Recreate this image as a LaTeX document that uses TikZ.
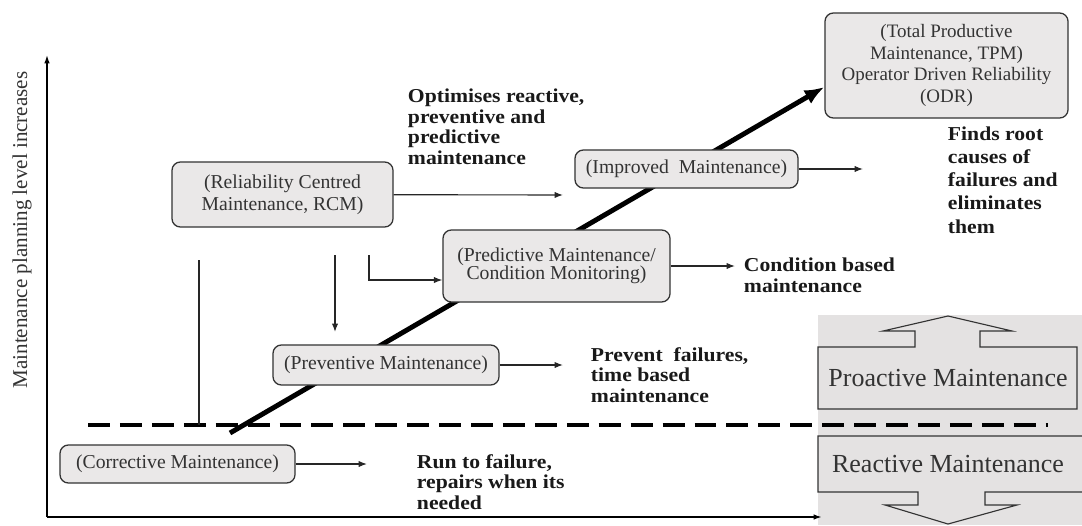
\documentclass[tikz,border=0pt]{standalone}
\usepackage{fontspec}
\setmainfont{Liberation Serif}
\newfontfamily\notefont{Liberation Serif Bold}[FakeStretch=1.1]
\usetikzlibrary{arrows.meta}
\definecolor{boxfill}{HTML}{EAE8E8}
\definecolor{backfill}{HTML}{E4E2E2}
\definecolor{ink}{HTML}{333333}
\begin{document}
\begin{tikzpicture}[x=0.025cm,y=-0.025cm,
	stage/.style={draw=ink,line width=0.9pt,fill=boxfill,rounded corners=6pt,inner sep=0pt,
		align=center,text=ink,font=\fontsize{14}{15.4}\selectfont},
	note/.style={anchor=west,align=left,text=black!90,font=\notefont\fontsize{14}{14.6}\selectfont},
	arr/.style={-{Latex[length=6pt,width=4.5pt]},line width=0.8pt,draw=black!85},
	block/.style={draw=ink,line width=0.8pt,fill=backfill},
	big/.style={text=ink,font=\fontsize{18.5}{20}\selectfont}]
	\useasboundingbox (0,0) rectangle (1082,525);
	\fill[backfill] (818,315) rectangle (1082,525);
	% free ends
	\path (47,517) coordinate (O) (47,55) coordinate (Ytop) (822,517) coordinate (Xend)
	(230,433) coordinate (rise) (88,425) coordinate (dashL) (1048,425) coordinate (dashR)
	(199,260) coordinate (barTop) (199,425) coordinate (barFoot)
	(335,255) coordinate (rcmDrop) (335,332) coordinate (prevTop) (369,255) coordinate (rcmHook)
	(367,464) coordinate (corrEnd) (563,365) coordinate (prevEnd) (735,266) coordinate (predEnd)
	(863,169) coordinate (impEnd) (563,195) coordinate (rcmEnd);
	\draw[line width=1pt,-{Latex[length=6pt,width=4pt]}] (O) -- (Ytop);
	\draw[line width=1.3pt,-{Latex[length=6pt,width=4pt]}] (O) -- (Xend);
	\node[rotate=90,text=ink,font=\fontsize{15}{15}\selectfont] (ylab) at (22,230) {Maintenance planning level increases};
	\draw[line width=2.8pt,dash pattern=on 15.6pt off 7.1pt] (dashL) -- (dashR);
	% the boxes
	\node[stage,minimum width=6.075cm,minimum height=2.625cm,font=\fontsize{13.5}{15.4}\selectfont] (tpm) at (946.5,65.5)
	{(Total Productive\\Maintenance, TPM)\\Operator Driven Reliability\\(ODR)};
	\draw[line width=3.5pt,-{Latex[length=14pt,width=11pt]}] (rise) -- (tpm.190);
	\node[stage,minimum width=5.525cm,minimum height=1.625cm] (rcm) at (282.5,194.5) {(Reliability Centred\\Maintenance, RCM)};
	\node[stage,minimum width=5.575cm,minimum height=0.95cm] (imp) at (686.5,169) {(Improved~ Maintenance)};
	\node[stage,minimum width=5.675cm,minimum height=1.8cm,font=\fontsize{14}{13}\selectfont] (pred) at (556.5,266)
	{(Predictive Maintenance/\\Condition Monitoring)};
	\node[stage,minimum width=5.65cm,minimum height=1cm] (prev) at (386,365) {(Preventive Maintenance)};
	\node[stage,minimum width=5.875cm,minimum height=0.95cm] (corr) at (177.5,464) {(Corrective Maintenance)};
	\foreach \a/\b in {corr/corrEnd,prev/prevEnd,pred/predEnd,imp/impEnd,rcm/rcmEnd}{
		\draw[arr] (\a) -- (\b);
	}
	\draw[arr] (rcmDrop) -- (prevTop);
	\draw[arr] (rcmHook) |- (pred.187);
	\draw[line width=0.9pt,draw=black!85] (barTop) -- (barFoot);
	% what each one does
	\node[note] (optim) at (403,127) {Optimises reactive,\\preventive and\\predictive\\maintenance};
	\node[note,font=\notefont\fontsize{14}{16.5}\selectfont] (roots) at (943,180) {Finds root\\causes of\\failures and\\eliminates\\them};
	\node[note] (cond) at (739,275) {Condition based\\maintenance};
	\node[note] (time) at (586,375) {Prevent~ failures,\\time based\\maintenance};
	\node[note] (run) at (412,482) {Run to failure,\\repairs when its\\needed};
	% proactive / reactive
	\draw[block] (818,409) -- (818,347) -- (915,347) -- (915,331) -- (883,331) -- (948,316)
	-- (1012,331) -- (980,331) -- (980,347) -- (1077,347) -- (1077,409) -- cycle;
	\draw[block] (1082,436) -- (818,436) -- (818,492) -- (918,492) -- (918,505) -- (885,505)
	-- (948,524) -- (1017,505) -- (985,505) -- (985,492) -- (1082,492);
	\node[big] (pro) at (948,378) {Proactive Maintenance};
	\node[big] (rea) at (948,464) {Reactive Maintenance};
\end{tikzpicture}
\end{document}
